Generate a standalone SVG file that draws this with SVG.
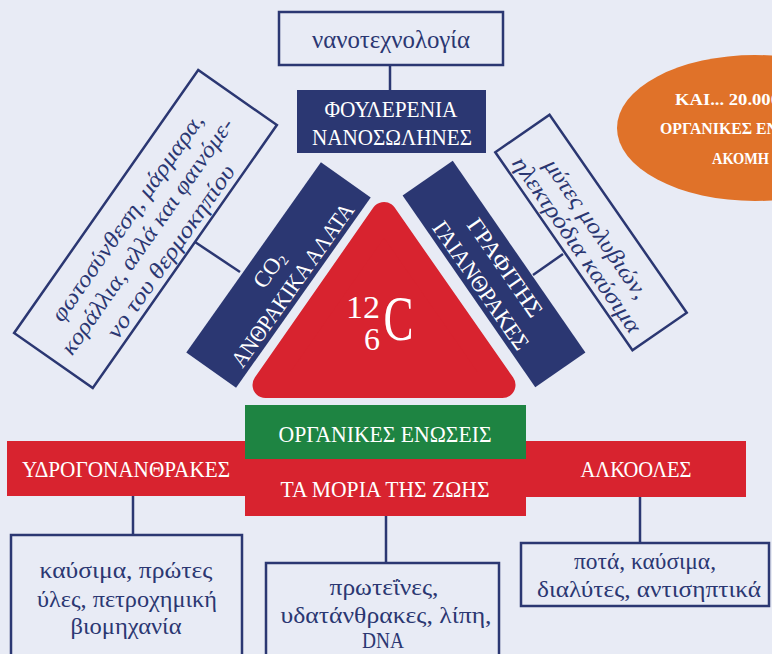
<svg xmlns="http://www.w3.org/2000/svg" width="772" height="654" viewBox="0 0 772 654">
<style>
.bg{fill:#E8EBF5}
.box{fill:#E8EBF5;stroke:#2B3772;stroke-width:2.5}
.navy{fill:#2B3772}
.red{fill:#D8232F}
.green{fill:#1E8442}
.line{stroke:#2B3772;stroke-width:2.5;fill:none}
text{font-family:"Liberation Serif","DejaVu Serif",serif}
.t{fill:#2B3772;font-size:24px;text-anchor:middle}
.ti{fill:#2B3772;font-size:23px;font-style:italic;text-anchor:middle}
.w{fill:#ffffff;font-size:23px;text-anchor:middle}
.ob{fill:#ffffff;font-size:17px;font-weight:bold}
</style>
<rect class="bg" x="0" y="0" width="772" height="654"/>
<g id="connectors">
<line class="line" x1="390" y1="65" x2="390" y2="90"/>
<line class="line" x1="195" y1="242" x2="240" y2="272"/>
<line class="line" x1="533" y1="275" x2="563" y2="254"/>
<line class="line" x1="133" y1="496" x2="133" y2="535"/>
<line class="line" x1="386" y1="516" x2="386" y2="563"/>
<line class="line" x1="640" y1="497" x2="640" y2="543"/>
</g>
<g id="orange">
<ellipse cx="755" cy="128" rx="138" ry="73" fill="#E07229"/>
<text class="ob" x="675" y="105" textLength="105" lengthAdjust="spacingAndGlyphs">ΚΑΙ... 20.000</text>
<text class="ob" x="660" y="134" textLength="168" lengthAdjust="spacingAndGlyphs">ΟΡΓΑΝΙΚΕΣ ΕΝΩΣΕΙΣ</text>
<text class="ob" x="712" y="164" textLength="57" lengthAdjust="spacingAndGlyphs">ΑΚΟΜΗ</text>
</g>
<g id="nano">
<rect class="box" x="279" y="12" width="224" height="53"/>
<text class="t" x="391" y="48" style="font-size:26px" textLength="158" lengthAdjust="spacingAndGlyphs">νανοτεχνολογία</text>
</g>
<g id="fullerene">
<rect class="navy" x="297" y="90" width="189" height="63"/>
<text class="w" x="391" y="117" textLength="133" lengthAdjust="spacingAndGlyphs">ΦΟΥΛΕΡΕΝΙΑ</text>
<text class="w" x="392" y="145" textLength="160" lengthAdjust="spacingAndGlyphs">ΝΑΝΟΣΩΛΗΝΕΣ</text>
</g>
<g id="leftbox" transform="translate(145.5,229) rotate(-55)">
<rect class="box" x="-160.5" y="-48" width="321" height="96"/>
<text class="ti" x="-1" y="-14" textLength="248" lengthAdjust="spacingAndGlyphs">φωτοσύνθεση, μάρμαρα,</text>
<text class="ti" x="-5" y="13" textLength="283" lengthAdjust="spacingAndGlyphs">κοράλλια, αλλά και φαινόμε-</text>
<text class="ti" x="-4" y="41" textLength="206" lengthAdjust="spacingAndGlyphs">νο του θερμοκηπίου</text>
</g>
<g id="co2bar" transform="translate(278.5,275) rotate(-54.7)">
<rect class="navy" x="-116.5" y="-30.5" width="233" height="61"/>
<text class="w" x="-1" y="-3">CO<tspan font-size="14" dy="3">2</tspan></text>
<text class="w" x="0" y="25" textLength="195" lengthAdjust="spacingAndGlyphs">ΑΝΘΡΑΚΙΚΑ ΑΛΑΤΑ</text>
</g>
<g id="graphitebar" transform="translate(494,274) rotate(55.3)">
<rect class="navy" x="-116.5" y="-30.5" width="233" height="61"/>
<text class="w" x="1" y="-5" textLength="115" lengthAdjust="spacingAndGlyphs">ΓΡΑΦΙΤΗΣ</text>
<text class="w" x="2" y="25" textLength="151" lengthAdjust="spacingAndGlyphs">ΓΑΙΑΝΘΡΑΚΕΣ</text>
</g>
<g id="rightbox" transform="translate(591,232.5) rotate(55.3)">
<rect class="box" x="-120.5" y="-33" width="241" height="66"/>
<text class="ti" x="0" y="1" textLength="165" lengthAdjust="spacingAndGlyphs">μύτες μολυβιών,</text>
<text class="ti" x="2" y="26" textLength="209" lengthAdjust="spacingAndGlyphs">ηλεκτρόδια καύσιμα</text>
</g>
<g id="carbon">
<polygon points="384,215 502.5,385 265.5,385" fill="#D8232F" stroke="#D8232F" stroke-width="26" stroke-linejoin="round"/>
<text x="363" y="318" fill="#fff" font-size="32" text-anchor="middle" textLength="34" lengthAdjust="spacingAndGlyphs">12</text>
<text x="372" y="350" fill="#fff" font-size="32" text-anchor="middle">6</text>
<text x="398.5" y="340" fill="#fff" font-size="63" text-anchor="middle" textLength="30" lengthAdjust="spacingAndGlyphs">C</text>
</g>
<g id="hydrocarbons">
<rect class="red" x="7" y="441" width="245" height="55"/>
<text class="w" x="126" y="477" textLength="208" lengthAdjust="spacingAndGlyphs">ΥΔΡΟΓΟΝΑΝΘΡΑΚΕΣ</text>
</g>
<g id="alcohols">
<rect class="red" x="520" y="441" width="226" height="56"/>
<text class="w" x="636" y="477" textLength="111" lengthAdjust="spacingAndGlyphs">ΑΛΚΟΟΛΕΣ</text>
</g>
<g id="organic">
<rect class="green" x="245" y="405" width="281" height="54"/>
<text class="w" x="385" y="442" textLength="213" lengthAdjust="spacingAndGlyphs">ΟΡΓΑΝΙΚΕΣ ΕΝΩΣΕΙΣ</text>
</g>
<g id="life">
<rect class="red" x="245" y="459" width="281" height="57"/>
<text class="w" x="385" y="497" textLength="209" lengthAdjust="spacingAndGlyphs">ΤΑ ΜΟΡΙΑ ΤΗΣ ΖΩΗΣ</text>
</g>
<g id="fuelsbox">
<rect class="box" x="11" y="535" width="231" height="130"/>
<text class="t" x="126" y="578" textLength="173" lengthAdjust="spacingAndGlyphs">καύσιμα, πρώτες</text>
<text class="t" x="127" y="607" textLength="180" lengthAdjust="spacingAndGlyphs">ύλες, πετροχημική</text>
<text class="t" x="126" y="634" textLength="111" lengthAdjust="spacingAndGlyphs">βιομηχανία</text>
</g>
<g id="biobox">
<rect class="box" x="266" y="563" width="233" height="110"/>
<text class="t" x="384" y="595" textLength="109" lengthAdjust="spacingAndGlyphs">πρωτεΐνες,</text>
<text class="t" x="386" y="623" textLength="211" lengthAdjust="spacingAndGlyphs">υδατάνθρακες, λίπη,</text>
<text class="t" x="383" y="648" textLength="42" lengthAdjust="spacingAndGlyphs">DNA</text>
</g>
<g id="drinksbox">
<rect class="box" x="521" y="543" width="248" height="63"/>
<text class="t" x="645" y="569" textLength="142" lengthAdjust="spacingAndGlyphs">ποτά, καύσιμα,</text>
<text class="t" x="649" y="597" textLength="224" lengthAdjust="spacingAndGlyphs">διαλύτες, αντισηπτικά</text>
</g>
</svg>
